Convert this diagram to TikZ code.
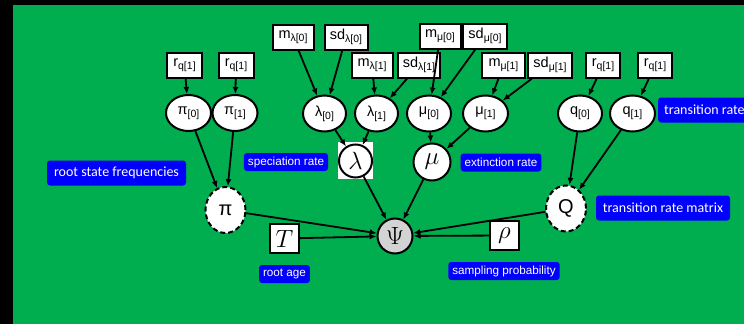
\documentclass[tikz,border=0pt]{standalone}
\usepackage{fontspec}
\setmainfont{Carlito}
\newfontfamily\arialfont{Liberation Sans}
\usetikzlibrary{arrows.meta,shapes.geometric}

\definecolor{slidegreen}{RGB}{0,173,79}
\definecolor{tagblue}{RGB}{0,0,255}
\newcommand{\idx}[1]{\raisebox{-0.4ex}{\fontsize{10.5}{10.5}\selectfont #1}}
\newcommand{\boxtxt}[2]{\arialfont\fontsize{14.5}{14.5}\selectfont #1\idx{#2}}

\begin{document}
\begin{tikzpicture}[x=1pt,y=-1pt,
  hyper/.style={draw,line width=2pt,fill=white,minimum height=25pt,inner sep=0pt},
  stoch/.style={draw,ellipse,line width=2pt,fill=white,minimum width=45pt,minimum height=36pt,inner sep=0pt},
  detnode/.style={draw,ellipse,dash pattern=on 5pt off 3pt,line width=2pt,fill=white,minimum width=40pt,minimum height=46pt,inner sep=0pt,font=\arialfont\fontsize{20}{20}\selectfont},
  mathnode/.style={draw,circle,line width=2pt,fill=white,minimum size=37pt,inner sep=0pt,font=\fontsize{24}{24}\selectfont},
  constnode/.style={draw,line width=2pt,fill=white,minimum size=29pt,inner sep=0pt,font=\fontsize{24}{24}\selectfont},
  bigtag/.style={fill=tagblue,text=white,rounded corners=3pt,minimum height=25pt,inner xsep=6pt,font=\fontsize{14}{14}\selectfont},
  smalltag/.style={fill=tagblue,text=white,rounded corners=3pt,minimum height=18pt,inner xsep=4pt,font=\arialfont\fontsize{11.7}{12}\selectfont},
  arr/.style={-{Latex[length=7pt,width=6pt]},line width=1.8pt}]

% slide background
\fill[black] (0,0) rectangle (744,324);
\fill[slidegreen] (13,5) rectangle (744,324);
\useasboundingbox (0,0) rectangle (744,324);

% hyperparameters
\node[hyper,minimum width=35pt] (rq1) at (184.5,65) {\boxtxt{r}{q[1]}};
\node[hyper,minimum width=35pt] (rq2) at (236,65) {\boxtxt{r}{q[1]}};
\node[hyper,minimum width=41pt] (ml0) at (293,37) {\boxtxt{m}{λ[0]}};
\node[hyper,minimum width=43pt] (sdl0) at (346,37) {\boxtxt{sd}{λ[0]}};
\node[hyper,minimum width=41pt] (ml1) at (372,65) {\boxtxt{m}{λ[1]}};
\node[hyper,minimum width=42pt] (sdl1) at (419,65) {\boxtxt{sd}{λ[1]}};
\node[hyper,minimum width=41pt] (mm0) at (440,36) {\boxtxt{m}{μ[0]}};
\node[hyper,minimum width=44pt] (sdm0) at (485,36) {\boxtxt{sd}{μ[0]}};
\node[hyper,minimum width=43pt] (mm1) at (503.5,65) {\boxtxt{m}{μ[1]}};
\node[hyper,minimum width=44pt] (sdm1) at (550,65) {\boxtxt{sd}{μ[1]}};
\node[hyper,minimum width=34pt] (rq3) at (603,65.5) {\boxtxt{r}{q[1]}};
\node[hyper,minimum width=34pt] (rq4) at (655,65.5) {\boxtxt{r}{q[1]}};

% stochastic nodes
\node[stoch] (pi0) at (188.5,113) {\boxtxt{π}{[0]}};
\node[stoch] (pi1) at (235,113) {\boxtxt{π}{[1]}};
\node[stoch,minimum width=43pt] (l0) at (324.5,113.5) {\boxtxt{λ}{[0]}};
\node[stoch,minimum width=43pt] (l1) at (376.5,113.5) {\boxtxt{λ}{[1]}};
\node[stoch,minimum width=44pt] (m0) at (429,113.5) {\boxtxt{μ}{[0]}};
\node[stoch] (m1) at (485.5,113.5) {\boxtxt{μ}{[1]}};
\node[stoch,minimum width=44pt] (q0) at (580,113.5) {\boxtxt{q}{[0]}};
\node[stoch] (q1) at (632.5,113.5) {\boxtxt{q}{[1]}};

% deterministic and other nodes
\node[detnode] (pi) at (225.5,210) {π};
\node[detnode] (Q) at (566,208.5) {Q};
\node[fill=white,minimum width=35pt,minimum height=37pt,inner sep=0pt] (lbg) at (355.5,160.5) {};
\node[mathnode,minimum size=33pt] (lambda) at (355.5,161) {$\lambda$};
\node[mathnode] (mu) at (432,162) {$\mu$};
\node[mathnode,fill={rgb,255:red,211;green,211;blue,211},minimum size=35pt] (psi) at (395,236) {$\Psi$};
\node[constnode] (T) at (284.5,238.5) {$T$};
\node[constnode] (rho) at (504.5,235.5) {$\rho$};

% tags
\node[bigtag,minimum width=139pt] (tagpi) at (116.5,173) {root state frequencies};
\node[bigtag,minimum width=134pt] (tagQ) at (663,208) {transition rate matrix};
\node[bigtag,anchor=west] (tagq) at (658,110) {transition rate};
\node[smalltag] (tagl) at (286,162) {speciation rate};
\node[smalltag] (tagm) at (501,162.5) {extinction rate};
\node[smalltag] (tagT) at (284.5,274) {root age};
\node[smalltag] (tagrho) at (504,271) {sampling probability};

% connectors
\draw[arr] (rq1) -- (pi0);
\draw[arr] (rq2) -- (pi1);
\draw[arr] (pi0) -- (pi);
\draw[arr] (pi1) -- (pi);
\draw[arr] (ml0) -- (l0);
\draw[arr] (sdl0) -- (l0);
\draw[arr] (ml1) -- (l1);
\draw[arr] (sdl1) -- (l1);
\draw[arr] (mm0) -- (m0);
\draw[arr] (sdm0) -- (m0);
\draw[arr] (mm1) -- (m1);
\draw[arr] (sdm1) -- (m1);
\draw[arr] (rq3) -- (q0);
\draw[arr] (rq4) -- (q1);
\draw[arr] (q0) -- (Q);
\draw[arr] (q1) -- (Q);
\draw[arr] (l0) -- (lambda);
\draw[arr] (l1) -- (lambda);
\draw[arr] (m0) -- (mu);
\draw[arr] (m1) -- (mu);
\draw[arr] (lambda) -- (psi);
\draw[arr] (mu) -- (psi);
\draw[arr] (pi) -- (psi);
\draw[arr] (Q) -- (psi);
\draw[arr] (T) -- (psi);
\draw[arr] (rho) -- (psi);

\end{tikzpicture}
\end{document}
